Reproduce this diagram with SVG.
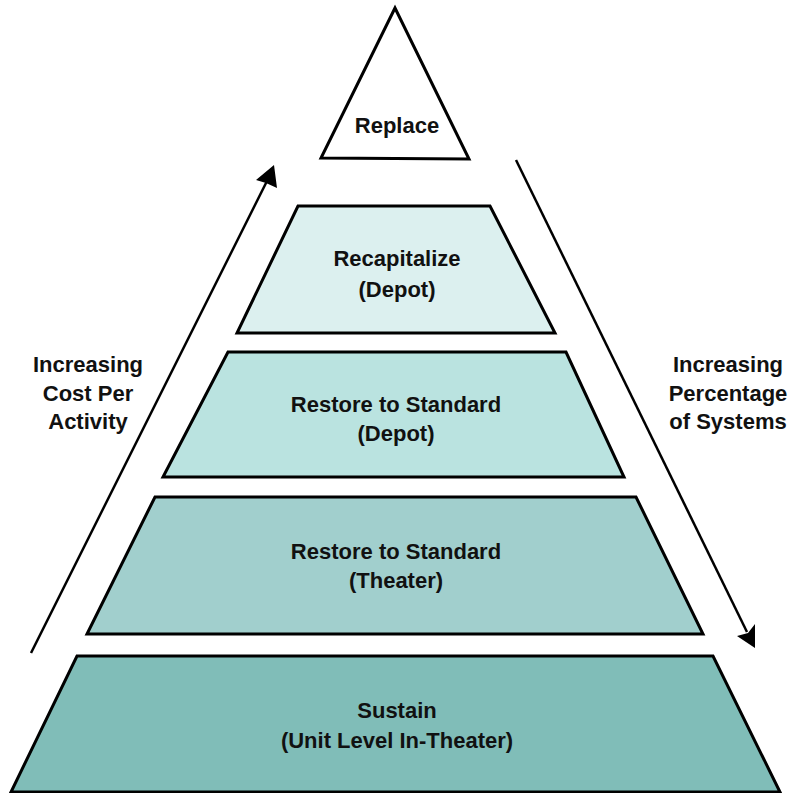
<svg xmlns="http://www.w3.org/2000/svg" width="789" height="793" viewBox="0 0 789 793">
<style>
.lv{stroke:#000;stroke-width:3;stroke-linejoin:miter}
.t{font-family:"Liberation Sans",Arial,sans-serif;font-weight:bold;font-size:22px;fill:#111;text-anchor:middle}
.c{stroke:#000;stroke-width:2.5;fill:none}
.ah{fill:#000}
</style>
<rect width="789" height="793" fill="#fff"/>
<g id="replace">
<polygon class="lv" points="395,8 469,159 321,158" fill="#fff"/>
<text class="t" x="397" y="133">Replace</text>
</g>
<g id="recapitalize">
<polygon class="lv" points="298,206 490,206 555,333 237,333" fill="#dcf0ef"/>
<text class="t" x="397" y="266">Recapitalize</text>
<text class="t" x="397" y="297">(Depot)</text>
</g>
<g id="restore-depot">
<polygon class="lv" points="228,352 566,352 624,477 163,477" fill="#bae3e0"/>
<text class="t" x="396" y="412">Restore to Standard</text>
<text class="t" x="396" y="441">(Depot)</text>
</g>
<g id="restore-theater">
<polygon class="lv" points="155,497 636,497 703,634 87,634" fill="#a1cfcd"/>
<text class="t" x="396" y="559">Restore to Standard</text>
<text class="t" x="396" y="588">(Theater)</text>
</g>
<g id="sustain">
<polygon class="lv" points="77,656 713,656 780,792 11,792" fill="#80bdb8"/>
<text class="t" x="397" y="718">Sustain</text>
<text class="t" x="397" y="748">(Unit Level In-Theater)</text>
</g>
<g id="connectors">
<line class="c" x1="31" y1="653" x2="267" y2="181"/>
<polygon class="ah" points="274,165 277,188 266,183 256,180"/>
<line class="c" x1="516" y1="160" x2="747" y2="632"/>
<polygon class="ah" points="755,648 737,636 748,633 755,624"/>
</g>
<g id="label-left">
<text class="t" x="88" y="372">Increasing</text>
<text class="t" x="88" y="401">Cost Per</text>
<text class="t" x="88" y="429">Activity</text>
</g>
<g id="label-right">
<text class="t" x="728" y="372">Increasing</text>
<text class="t" x="728" y="401">Percentage</text>
<text class="t" x="728" y="429">of Systems</text>
</g>
</svg>
